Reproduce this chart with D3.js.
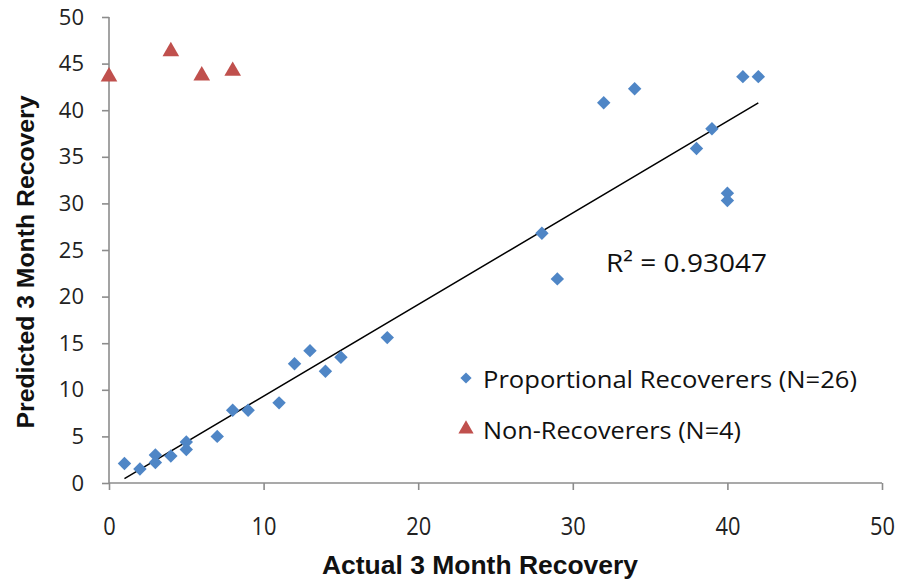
<!DOCTYPE html>
<html>
<head>
<meta charset="utf-8">
<script src="https://cdn.jsdelivr.net/npm/d3@7"></script>
<style>
  body { margin: 0; background: #fff; }
  svg { display: block; }
</style>
</head>
<body>
<svg id="chart" width="904" height="586"></svg>
<script>
// valores
const propX = [1, 2, 3, 3, 4, 5, 5, 7, 8, 9, 11, 12, 13, 14, 15, 18, 28, 29, 32, 34, 38, 39, 40, 40, 41, 42];
const propY = [2.1, 1.5, 3.0, 2.2, 2.9, 4.4, 3.6, 5.0, 7.8, 7.8, 8.6, 12.8, 14.2, 12.0, 13.5, 15.6, 26.8, 21.9, 40.8, 42.3, 35.9, 38.0, 31.1, 30.3, 43.6, 43.6];
const naoX = [0, 4, 6, 8];
const naoY = [43.6, 46.3, 43.7, 44.2];
const xTicks = [0, 10, 20, 30, 40, 50];
const yTicks = [0, 5, 10, 15, 20, 25, 30, 35, 40, 45, 50];
const legenda = ["Proportional Recoverers (N=26)", "Non-Recoverers (N=4)"];
const r2Texto = "R\u00b2 = 0.93047";

const azul = "#4F86C6";
const vermelho = "#C0504D";
const cinza = "#8c8c8c";

const svg = d3.select("#chart");
const x = d3.scaleLinear().domain([0, 50]).range([109, 882]);
const y = d3.scaleLinear().domain([0, 50]).range([483, 17]);

// eixos
const eixoX = svg.append("g")
  .attr("transform", `translate(0,${y(0)})`)
  .call(d3.axisBottom(x).tickValues(xTicks).tickSize(7).tickPadding(27));
const eixoY = svg.append("g")
  .attr("transform", `translate(${x(0)},0)`)
  .call(d3.axisLeft(y).tickValues(yTicks).tickSize(7).tickPadding(18));

[eixoX, eixoY].forEach(g => {
  g.selectAll("line").attr("stroke", cinza).attr("stroke-width", 1.6);
  g.select(".domain").remove();
});
svg.append("line").attr("x1", x(0)).attr("x2", x(50)).attr("y1", y(0)).attr("y2", y(0))
  .attr("stroke", cinza).attr("stroke-width", 1.6);
svg.append("line").attr("x1", x(0)).attr("x2", x(0)).attr("y1", y(0)).attr("y2", y(50))
  .attr("stroke", cinza).attr("stroke-width", 1.6);

eixoX.selectAll("text")
  .attr("font-family", "'Open Sans', sans-serif")
  .attr("font-size", 25).attr("fill", "#222")
  .attr("textLength", d => String(d).length * 12.5)
  .attr("lengthAdjust", "spacingAndGlyphs");
eixoY.selectAll("text")
  .attr("font-family", "'Open Sans', sans-serif")
  .attr("font-size", 22).attr("fill", "#222");

// linha de tendência (mínimos quadrados)
const n = propX.length;
const mx = d3.mean(propX), my = d3.mean(propY);
let sxy = 0, sxx = 0;
for (let i = 0; i < n; i++) {
  sxy += (propX[i] - mx) * (propY[i] - my);
  sxx += (propX[i] - mx) ** 2;
}
const incl = sxy / sxx;
const inter = my - incl * mx;
const x0 = d3.min(propX), x1 = d3.max(propX);
svg.append("line")
  .attr("x1", x(x0)).attr("y1", y(inter + incl * x0))
  .attr("x2", x(x1)).attr("y2", y(inter + incl * x1))
  .attr("stroke", "#000").attr("stroke-width", 1.5);

// pontos
const losango = d3.symbol().type(d3.symbolDiamond2).size(115);
const triangulo = d3.symbol().type(d3.symbolTriangle).size(120);

svg.append("g").selectAll("path")
  .data(propX.map((d, i) => [d, propY[i]]))
  .join("path")
  .attr("d", losango)
  .attr("transform", d => `translate(${x(d[0])},${y(d[1])})`)
  .attr("fill", azul);

svg.append("g").selectAll("path")
  .data(naoX.map((d, i) => [d, naoY[i]]))
  .join("path")
  .attr("d", triangulo)
  .attr("transform", d => `translate(${x(d[0])},${y(d[1])})`)
  .attr("fill", vermelho);

// R²
svg.append("text")
  .attr("x", 606).attr("y", 272)
  .attr("font-family", "'Open Sans', sans-serif")
  .attr("font-size", 25).attr("fill", "#111")
  .attr("textLength", 161).attr("lengthAdjust", "spacingAndGlyphs")
  .text(r2Texto);

// legenda
const larguras = [374, 258];
const leg = svg.append("g");
legenda.forEach((txt, i) => {
  const cy = 378 + i * 51;
  leg.append("path")
    .attr("d", i === 0 ? d3.symbol().type(d3.symbolDiamond2).size(80)() : d3.symbol().type(d3.symbolTriangle).size(100)())
    .attr("transform", `translate(466,${cy})`)
    .attr("fill", i === 0 ? azul : vermelho);
  leg.append("text")
    .attr("x", 483).attr("y", cy + 10)
    .attr("font-family", "'Open Sans', sans-serif")
    .attr("font-size", 23).attr("fill", "#111")
    .attr("textLength", larguras[i]).attr("lengthAdjust", "spacingAndGlyphs")
    .text(txt);
});

// títulos dos eixos
svg.append("text")
  .attr("x", 480).attr("y", 574)
  .attr("text-anchor", "middle")
  .attr("font-family", "'Liberation Sans', sans-serif")
  .attr("font-weight", "bold").attr("font-size", 25).attr("fill", "#111")
  .attr("textLength", 316).attr("lengthAdjust", "spacingAndGlyphs")
  .text("Actual 3 Month Recovery");

svg.append("text")
  .attr("transform", "translate(34,262) rotate(-90)")
  .attr("text-anchor", "middle")
  .attr("font-family", "'Liberation Sans', sans-serif")
  .attr("font-weight", "bold").attr("font-size", 23).attr("fill", "#111")
  .attr("textLength", 333).attr("lengthAdjust", "spacingAndGlyphs")
  .text("Predicted 3 Month Recovery");
</script>
</body>
</html>
